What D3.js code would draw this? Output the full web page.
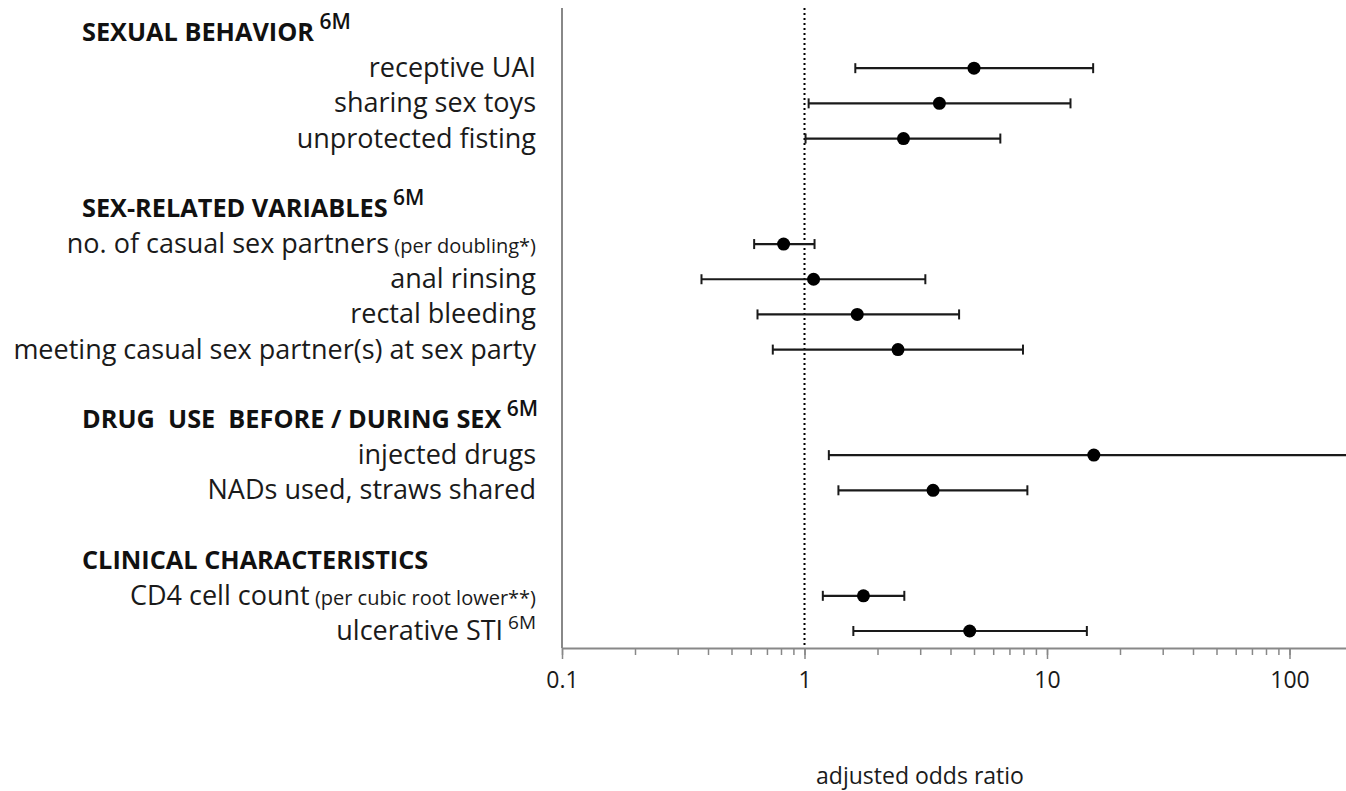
<!DOCTYPE html>
<html>
<head>
<meta charset="utf-8">
<script src="https://cdn.jsdelivr.net/npm/d3@7"></script>
<style>
  body { margin: 0; background: #fff; }
  svg { display: block; font-family: 'Open Sans', sans-serif; }
  text { white-space: pre; }
</style>
</head>
<body>
<div id="chart"></div>
<script>
// Groups (section headers) and their superscripts
const groupNames = ['SEXUAL BEHAVIOR', 'SEX-RELATED VARIABLES', 'DRUG  USE  BEFORE / DURING SEX', 'CLINICAL CHARACTERISTICS'];
const groupSups = ['6M', '6M', '6M', ''];

// Items
const itemGroup = [0, 0, 0, 1, 1, 1, 1, 2, 2, 3, 3];
const itemLabels = [
  'receptive UAI', 'sharing sex toys', 'unprotected fisting',
  'no. of casual sex partners', 'anal rinsing', 'rectal bleeding', 'meeting casual sex partner(s) at sex party',
  'injected drugs', 'NADs used, straws shared',
  'CD4 cell count', 'ulcerative STI'
];
const itemNotes = ['', '', '', '(per doubling*)', '', '', '', '', '', '(per cubic root lower**)', ''];
const itemSups = ['', '', '', '', '', '', '', '', '', '', '6M'];

// Adjusted odds ratios with 95% CI
const oddsRatio = [5.0, 3.6, 2.56, 0.82, 1.09, 1.65, 2.43, 15.6, 3.39, 1.75, 4.8];
const ciLower   = [1.62, 1.04, 1.01, 0.62, 0.376, 0.64, 0.74, 1.26, 1.38, 1.19, 1.59];
const ciUpper   = [15.5, 12.5, 6.42, 1.10, 3.15, 4.34, 7.96, 200, 8.30, 2.58, 14.6];

const xDomain = [0.1, 171];
const majorTicks = [0.1, 1, 10, 100];

const width = 1346, height = 791;
const svg = d3.select('#chart').append('svg')
  .attr('width', width)
  .attr('height', height);

// Build slot list: header, items, spacer per group
const slots = [];
groupNames.forEach((g, gi) => {
  slots.push({ type: 'header', key: 'h' + gi, gi });
  itemGroup.forEach((ig, i) => { if (ig === gi) slots.push({ type: 'item', key: 'i' + i, i }); });
  if (gi < groupNames.length - 1) slots.push({ type: 'gap', key: 'g' + gi });
});

const y = d3.scalePoint()
  .domain(slots.map(s => s.key))
  .range([33, 631]);

const x = d3.scaleLog()
  .domain(xDomain)
  .range([562, 1346])
  .clamp(true);

const axisY = 648;
const textColor = '#1a1a1a';

// Axis (bottom) - minor ticks
const minorTicks = [];
[0.1, 1, 10, 100].forEach(d => {
  for (let k = 1; k <= 9; k++) {
    const v = d * k;
    if (v <= xDomain[1]) minorTicks.push(+v.toPrecision(3));
  }
});

svg.append('g')
  .attr('transform', `translate(0,${axisY})`)
  .call(d3.axisBottom(x).tickValues(minorTicks).tickSize(7).tickFormat(''))
  .call(g => g.select('.domain').remove())
  .call(g => g.selectAll('line').attr('stroke', '#888').attr('stroke-width', 1.5));

svg.append('g')
  .attr('transform', `translate(0,${axisY})`)
  .call(d3.axisBottom(x).tickValues(majorTicks).tickSize(11).tickSizeOuter(0).tickPadding(13)
    .tickFormat(d => d3.format('~g')(d)))
  .call(g => g.select('.domain').attr('stroke', '#888').attr('stroke-width', 2))
  .call(g => g.selectAll('line').attr('stroke', '#888').attr('stroke-width', 1.5))
  .call(g => g.selectAll('text')
    .attr('font-family', "'Open Sans', sans-serif")
    .attr('font-size', 23)
    .attr('fill', textColor));

// Y axis line
svg.append('line')
  .attr('x1', x(xDomain[0])).attr('x2', x(xDomain[0]))
  .attr('y1', 8).attr('y2', axisY)
  .attr('stroke', '#888').attr('stroke-width', 2);

// Reference line at OR = 1
svg.append('line')
  .attr('x1', x(1)).attr('x2', x(1))
  .attr('y1', 8).attr('y2', axisY)
  .attr('stroke', '#000').attr('stroke-width', 2)
  .attr('stroke-dasharray', '2,3');

// Headers
const headers = svg.append('g').selectAll('text')
  .data(slots.filter(s => s.type === 'header'))
  .join('text')
  .attr('x', 82)
  .attr('y', d => y(d.key) + 8)
  .attr('font-size', 25.3)
  .attr('font-weight', 'bold')
  .attr('fill', '#111');
headers.append('tspan').text(d => groupNames[d.gi]);
headers.append('tspan')
  .attr('font-size', 21)
  .attr('font-weight', 600)
  .attr('dy', -12)
  .text(d => groupSups[d.gi] ? ' ' + groupSups[d.gi] : '');

// Item labels
const labels = svg.append('g').selectAll('text')
  .data(slots.filter(s => s.type === 'item'))
  .join('text')
  .attr('x', 536)
  .attr('y', d => y(d.key) + 9)
  .attr('text-anchor', 'end')
  .attr('font-size', 27)
  .attr('fill', textColor);
labels.append('tspan').text(d => itemLabels[d.i]);
labels.append('tspan')
  .attr('font-size', 20)
  .text(d => itemNotes[d.i] ? ' ' + itemNotes[d.i] : '');
labels.append('tspan')
  .attr('font-size', 19)
  .attr('dy', -11)
  .text(d => itemSups[d.i] ? ' ' + itemSups[d.i] : '');

// Error bars
const items = slots.filter(s => s.type === 'item');
const bars = svg.append('g').selectAll('g')
  .data(items)
  .join('g')
  .attr('transform', d => `translate(0,${y(d.key)})`);

bars.append('line')
  .attr('x1', d => x(ciLower[d.i]))
  .attr('x2', d => x(ciUpper[d.i]))
  .attr('stroke', '#1a1a1a')
  .attr('stroke-width', 2.2);

bars.append('line')
  .attr('x1', d => x(ciLower[d.i])).attr('x2', d => x(ciLower[d.i]))
  .attr('y1', -5).attr('y2', 5)
  .attr('stroke', '#1a1a1a').attr('stroke-width', 2);

bars.filter(d => ciUpper[d.i] <= xDomain[1]).append('line')
  .attr('x1', d => x(ciUpper[d.i])).attr('x2', d => x(ciUpper[d.i]))
  .attr('y1', -5).attr('y2', 5)
  .attr('stroke', '#1a1a1a').attr('stroke-width', 2);

bars.append('circle')
  .attr('cx', d => x(oddsRatio[d.i]))
  .attr('r', 6.5)
  .attr('fill', '#000');

// Axis title
svg.append('text')
  .attr('x', 920)
  .attr('y', 784)
  .attr('text-anchor', 'middle')
  .attr('font-size', 23)
  .attr('fill', textColor)
  .text('adjusted odds ratio');
</script>
</body>
</html>
